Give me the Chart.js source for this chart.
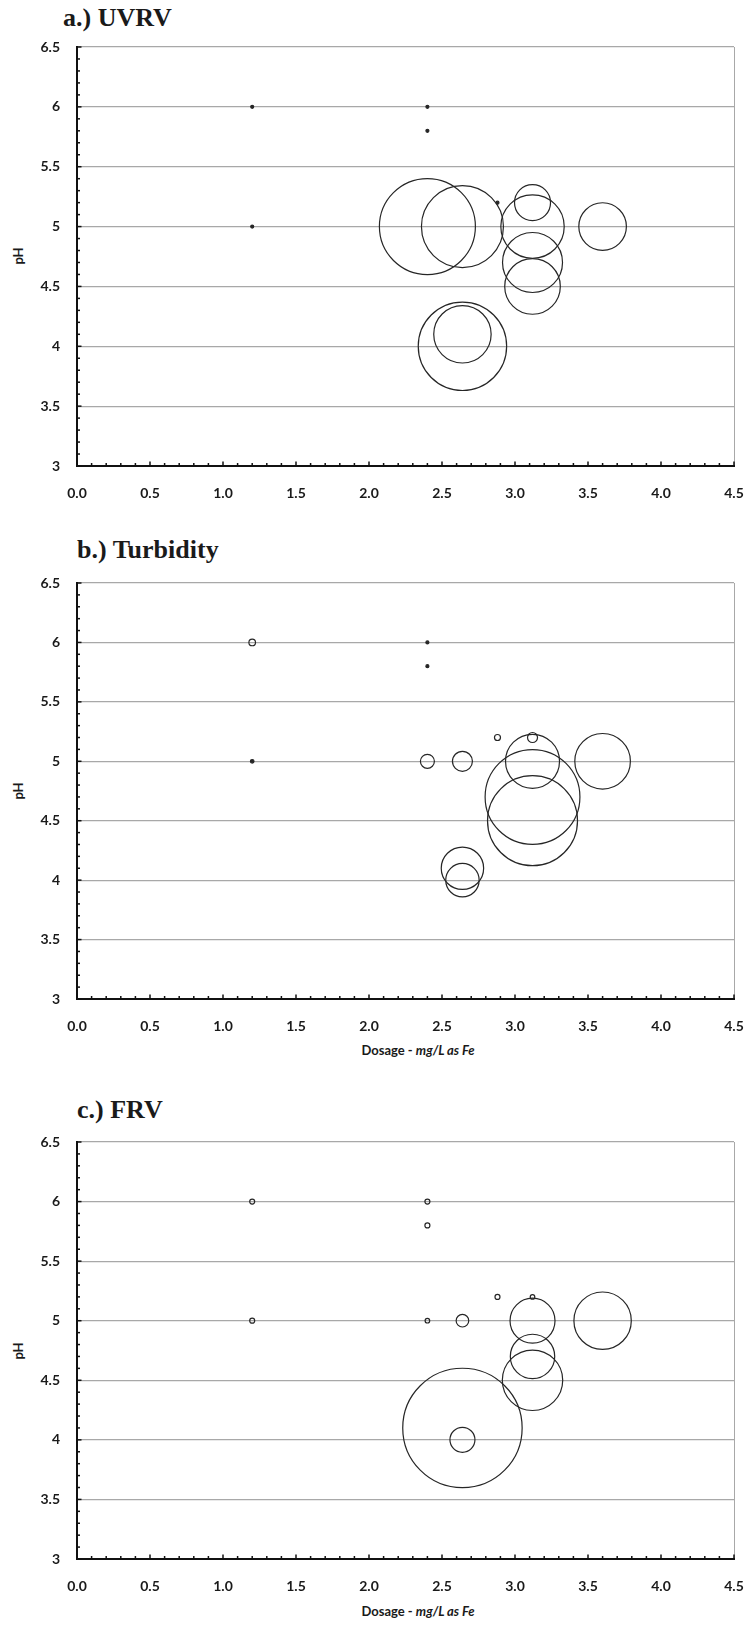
<!DOCTYPE html>
<html>
<head>
<meta charset="utf-8">
<script src="https://cdn.jsdelivr.net/npm/chart.js@4.4.1/dist/chart.umd.min.js"></script>
<style>
  html, body { margin: 0; padding: 0; background: #fff; }
  body { width: 746px; height: 1627px; position: relative; overflow: hidden; }
  canvas { position: absolute; left: 0; }
  .title { position: absolute; font-family: "Liberation Serif", "Times New Roman", serif; font-weight: bold; font-size: 26px; line-height: 26px; color: #1a1a1a; white-space: nowrap; }
  .ytitle { position: absolute; font-family: Lato, "Open Sans", sans-serif; font-weight: bold; font-size: 13px; color: #1a1a1a; transform: translate(-50%, -50%) rotate(-90deg); white-space: nowrap; }
  .xtitle { position: absolute; font-family: Lato, "Open Sans", sans-serif; font-weight: bold; font-size: 13px; color: #1a1a1a; transform: translate(-50%, -50%); white-space: nowrap; }
</style>
</head>
<body>
<div class="title" style="left:63px; top:5px;">a.) UVRV</div>
<div class="title" style="left:77px; top:537px;">b.) Turbidity</div>
<div class="title" style="left:77px; top:1097px;">c.) FRV</div>

<div class="ytitle" style="left:18px; top:256px;">pH</div>
<div class="ytitle" style="left:18px; top:791px;">pH</div>
<div class="ytitle" style="left:18px; top:1351px;">pH</div>

<div class="xtitle" style="left:418px; top:1050px;">Dosage - <i>mg/L as Fe</i></div>
<div class="xtitle" style="left:418px; top:1611px;">Dosage - <i>mg/L as Fe</i></div>

<canvas id="chartA" width="746" height="520" style="top:0px;"></canvas>
<canvas id="chartB" width="746" height="545" style="top:520px;"></canvas>
<canvas id="chartC" width="746" height="562" style="top:1065px;"></canvas>

<script>
// Coagulant dosage (mg/L as Fe) and pH of each jar test
const dosage = [1.2, 1.2, 2.4, 2.4, 2.4, 2.64, 2.88, 3.12, 3.12, 3.12, 3.12, 3.6, 2.64, 2.64];
const ph     = [6.0, 5.0, 6.0, 5.8, 5.0, 5.0,  5.2,  5.2,  5.0,  4.7,  4.5,  5.0, 4.1,  4.0];

// Bubble radius for each test, per response
const uvrvSize      = [1.5, 1.5, 1.5, 1.5, 48, 41, 1.5, 18, 31.7, 30, 27.8, 23.8, 28.7, 44.2];
const turbiditySize = [3.3, 1.8, 1.5, 1.5, 7, 10, 3, 5, 27, 47.4, 45, 27.8, 21.2, 16.7];
const frvSize       = [2.5, 2.5, 2.5, 2.5, 2.3, 6.3, 2.5, 2.3, 22.5, 22.2, 30.2, 28.7, 59.7, 12.5];

// Axis ranges and tick steps
const xMin = 0, xMax = 4.5, yMin = 3, yMax = 6.5;
const minorStep = 0.1, majorStep = 0.5;

const isMajor = v => Math.abs(v / majorStep - Math.round(v / majorStep)) < 1e-6;
const tickFont = { family: 'Lato, "Open Sans", sans-serif', size: 14, weight: 'bold' };
const ink = '#262626';
const clear = 'rgba(0,0,0,0)';

// Inward tick marks on the left and bottom axes
const innerTicks = {
  id: 'innerTicks',
  afterDatasetsDraw(chart) {
    const { ctx, chartArea, scales } = chart;
    ctx.save();
    ctx.strokeStyle = '#111';
    ctx.lineWidth = 1.5;
    scales.x.ticks.forEach(t => {
      const px = scales.x.getPixelForValue(t.value);
      const len = isMajor(t.value) ? 4.5 : 3;
      ctx.beginPath();
      ctx.moveTo(px, chartArea.bottom);
      ctx.lineTo(px, chartArea.bottom - len);
      ctx.stroke();
    });
    scales.y.ticks.forEach(t => {
      const py = scales.y.getPixelForValue(t.value);
      const len = isMajor(t.value) ? 4.5 : 3;
      ctx.beginPath();
      ctx.moveTo(chartArea.left, py);
      ctx.lineTo(chartArea.left + len, py);
      ctx.stroke();
    });
    ctx.restore();
  }
};

function makeChart(id, sizes, padTop, padBottom) {
  const points = dosage.map((d, i) => ({ x: d, y: ph[i], r: sizes[i] }));
  return new Chart(document.getElementById(id), {
    type: 'bubble',
    data: {
      datasets: [{
        data: points,
        // the tiniest markers read as solid dots, the rest as open rings
        backgroundColor: c => (c.raw && c.raw.r <= 2) ? ink : clear,
        borderColor: ink,
        borderWidth: 1.2,
        hoverBorderWidth: 1.2,
        hoverRadius: 0
      }]
    },
    options: {
      responsive: false,
      animation: false,
      events: [],
      clip: false,
      layout: { autoPadding: false, padding: { left: 0, right: 12, top: padTop, bottom: padBottom } },
      plugins: { legend: { display: false }, tooltip: { enabled: false } },
      scales: {
        x: {
          type: 'linear',
          min: xMin, max: xMax,
          afterFit: s => { s.height = 40; },
          ticks: {
            stepSize: minorStep,
            autoSkip: false,
            maxRotation: 0,
            padding: 0,
            color: '#1a1a1a',
            font: tickFont,
            callback: v => isMajor(v) ? v.toFixed(1) : ''
          },
          grid: {
            drawTicks: true,
            tickLength: 19,
            tickColor: clear,
            color: c => (c.tick && Math.abs(c.tick.value - xMax) < 1e-6) ? '#a8a8a8' : clear,
            lineWidth: 1
          },
          border: { display: true, color: '#111', width: 2 }
        },
        y: {
          type: 'linear',
          min: yMin, max: yMax,
          afterFit: s => { s.width = 77; },
          ticks: {
            stepSize: minorStep,
            autoSkip: false,
            padding: 17,
            color: '#1a1a1a',
            font: tickFont,
            callback: v => isMajor(v) ? String(Math.round(v * 10) / 10) : ''
          },
          grid: {
            drawTicks: false,
            color: c => (c.tick && isMajor(c.tick.value)) ? '#a8a8a8' : clear,
            lineWidth: 1.2
          },
          border: { display: true, color: '#111', width: 2 }
        }
      }
    },
    plugins: [innerTicks]
  });
}

makeChart('chartA', uvrvSize, 47, 14);
makeChart('chartB', turbiditySize, 63, 26);
makeChart('chartC', frvSize, 77, 28);
</script>
</body>
</html>
